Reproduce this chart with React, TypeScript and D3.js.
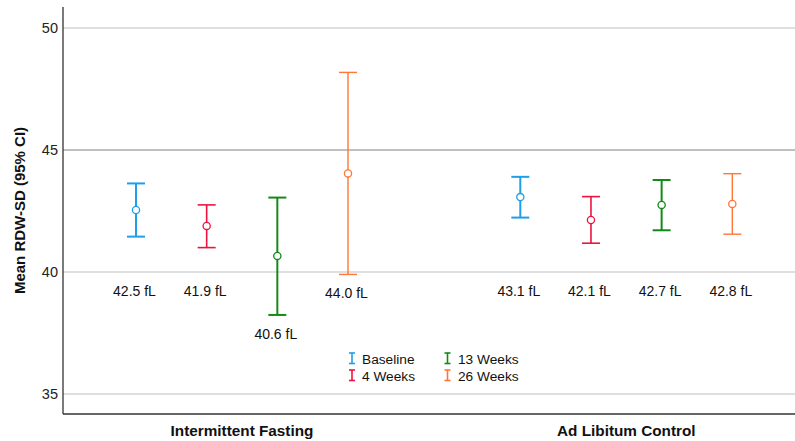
import React from "react";
import * as d3 from "d3";

const groups = ["Intermittent Fasting", "Ad Libitum Control"];
const series = ["Baseline", "4 Weeks", "13 Weeks", "26 Weeks"];
const colors = ["#1E9FE8", "#EE1240", "#138A17", "#FF7636"];
const widths = [2, 1.6, 2, 1.4];

// values per group, per series
const means = [
  [42.54, 41.89, 40.66, 44.04],
  [43.07, 42.13, 42.75, 42.79],
];
const lower = [
  [41.45, 41.0, 38.24, 39.9],
  [42.23, 41.18, 41.71, 41.55],
];
const upper = [
  [43.63, 42.75, 43.05, 48.18],
  [43.9, 43.09, 43.77, 44.03],
];
const labels = [
  ["42.5 fL", "41.9 fL", "40.6 fL", "44.0 fL"],
  ["43.1 fL", "42.1 fL", "42.7 fL", "42.8 fL"],
];
const yTicks = [35, 40, 45, 50];

export default function App() {
  const W = 795;
  const H = 441;
  const left = 63;
  const right = 795;
  const top = 7;
  const bottom = 414;

  const y = d3.scaleLinear().domain([35, 50]).range([394, 28]);
  const xg = d3.scalePoint<string>().domain(groups).range([242, 626.3]);
  const xs = d3.scalePoint<string>().domain(series).range([-106, 106]);

  const font = "Arial, 'Liberation Sans', sans-serif";

  return (
    <svg
      width={W}
      height={H}
      style={{ position: "absolute", left: 0, top: 0, background: "#fff" }}
      fontFamily={font}
    >
      {/* gridlines */}
      {yTicks.map((t) => (
        <line
          key={t}
          x1={left}
          x2={right}
          y1={y(t)}
          y2={y(t)}
          stroke={t === 45 ? "#ababab" : "#d4d4d4"}
          strokeWidth={t === 45 ? 1.5 : 1.3}
        />
      ))}
      {/* tick labels */}
      {yTicks.map((t) => (
        <text
          key={"l" + t}
          x={58}
          y={y(t)}
          dy="0.36em"
          textAnchor="end"
          fontSize={14.5}
          fill="#222"
        >
          {t}
        </text>
      ))}
      {/* axes */}
      <line x1={left} x2={left} y1={top} y2={bottom} stroke="#333" strokeWidth={1.3} />
      <line x1={left} x2={right} y1={bottom} y2={bottom} stroke="#333" strokeWidth={1.3} />

      {/* y title */}
      <text
        transform={`translate(20,${(top + bottom) / 2}) rotate(-90)`}
        textAnchor="middle"
        dy="0.36em"
        fontSize={15}
        fontWeight="bold"
        fill="#111"
      >
        Mean RDW-SD (95% CI)
      </text>

      {/* group labels */}
      {groups.map((g) => (
        <text
          key={g}
          x={xg(g)}
          y={436}
          textAnchor="middle"
          fontSize={15.3}
          fontWeight="bold"
          fill="#111"
        >
          {g}
        </text>
      ))}

      {/* error bars */}
      {groups.map((g, gi) =>
        series.map((s, si) => {
          const cx = (xg(g) as number) + (xs(s) as number);
          const yl = y(lower[gi][si]);
          const yu = y(upper[gi][si]);
          const ym = y(means[gi][si]);
          const c = colors[si];
          const sw = widths[si];
          const labelY = Math.max(296, yl + 24);
          return (
            <g key={g + s}>
              <line x1={cx} x2={cx} y1={yu} y2={yl} stroke={c} strokeWidth={sw} />
              <line x1={cx - 9} x2={cx + 9} y1={yu} y2={yu} stroke={c} strokeWidth={sw} />
              <line x1={cx - 9} x2={cx + 9} y1={yl} y2={yl} stroke={c} strokeWidth={sw} />
              <circle cx={cx} cy={ym} r={3.6} fill="#fff" stroke={c} strokeWidth={1.3} />
              <text
                x={cx - 1.5}
                y={labelY}
                textAnchor="middle"
                fontSize={14}
                fill="#111"
              >
                {labels[gi][si]}
              </text>
            </g>
          );
        })
      )}

      {/* legend */}
      {series.map((s, si) => {
        const col = Math.floor(si / 2);
        const row = si % 2;
        const ix = col === 0 ? 352 : 447.5;
        const tx = col === 0 ? 362 : 458;
        const by = 363.5 + row * 17;
        const c = colors[si];
        return (
          <g key={"lg" + s}>
            <line x1={ix} x2={ix} y1={by - 10.5} y2={by} stroke={c} strokeWidth={1.6} />
            <line x1={ix - 3} x2={ix + 3} y1={by - 10.5} y2={by - 10.5} stroke={c} strokeWidth={1.6} />
            <line x1={ix - 3} x2={ix + 3} y1={by} y2={by} stroke={c} strokeWidth={1.6} />
            <text x={tx} y={by} fontSize={13.7} fill="#111">
              {s}
            </text>
          </g>
        );
      })}
    </svg>
  );
}
